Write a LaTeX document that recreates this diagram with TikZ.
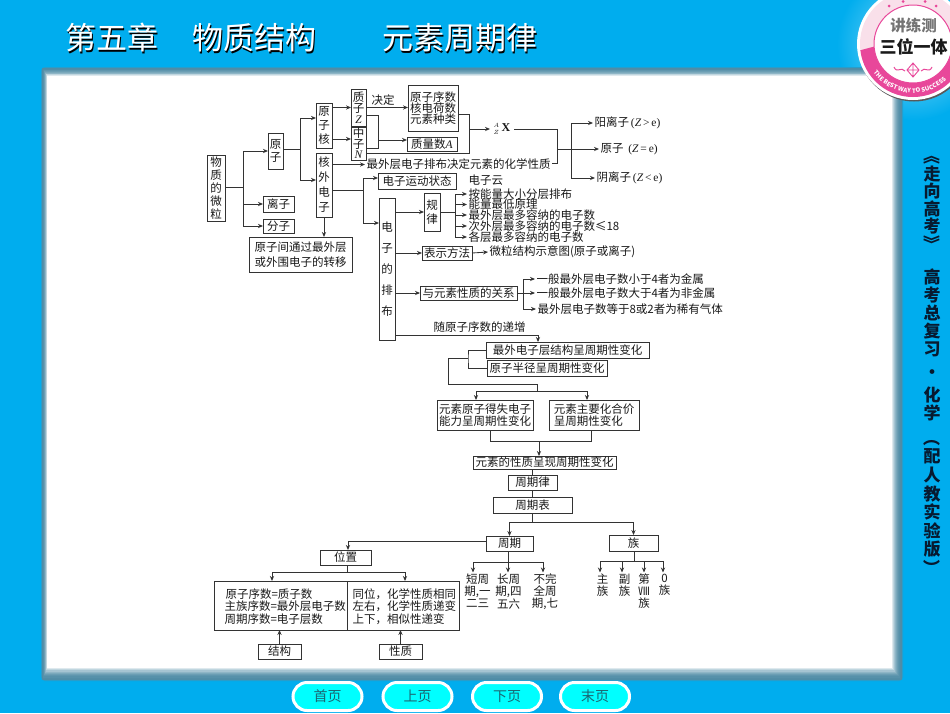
\documentclass[tikz,border=0pt]{standalone}
\usepackage{fontspec}
\setmainfont{Noto Sans CJK SC}
\newfontfamily\serifl{Liberation Serif}
\usetikzlibrary{arrows.meta,calc,decorations.text}
\definecolor{bgblue}{HTML}{00ADEE}
\definecolor{shd}{HTML}{4F8CA6}
\definecolor{ink}{HTML}{333333}
\definecolor{navy}{HTML}{071A30}
\definecolor{mag}{HTML}{E8479A}
\definecolor{lpink}{HTML}{F9E0EA}
\definecolor{pillc}{HTML}{00FFFF}
\definecolor{pillt}{HTML}{1B6672}
\tikzset{
  bx/.style={draw=ink,line width=.85pt,fill=white,inner sep=0pt,outer sep=0pt,align=center,text=black!90,
     font=\fontsize{11.5}{12}\selectfont},
  ls/.style={font=\fontsize{11.5}{#1}\selectfont},
  tx/.style={inner sep=0pt,outer sep=1.5pt,anchor=west,text=black!90,font=\fontsize{11.5}{12}\selectfont},
  tc/.style={inner sep=0pt,outer sep=1.5pt,anchor=north,align=center,text=black!90,font=\fontsize{11.5}{11.7}\selectfont},
  line/.style={draw=ink,line width=.85pt},
  arr/.style={draw=ink,line width=.85pt,-{Stealth[length=5pt,width=4.2pt]}},
  pill/.style={draw=white,line width=3pt,fill=pillc,rounded corners=14pt,minimum width=69pt,minimum height=28pt,
     inner sep=0pt,text=pillt,font=\fontsize{14}{14}\selectfont},
  side/.style={inner sep=0pt,align=center,text=navy}
}
\newcommand\bx[7][]{\node[bx,#1,minimum width={(#5-#3)*1pt},minimum height={(#6-#4)*1pt}] (#2) at ({(#3+#5)/2},{(#4+#6)/2}) {#7};}
\newcommand\tx[4]{\node[tx] (#1) at (#2,#3) {#4};}
\newcommand\tc[4]{\node[tc] (#1) at (#2,#3) {#4};}
\newcommand\sr[1]{{\serifl\itshape #1}}
\newcommand\rv[1]{\rotatebox[origin=c]{-90}{#1}}
\begin{document}
\begin{tikzpicture}[x=1pt,y=-1pt]
\useasboundingbox (0,0) rectangle (950,713);
\clip (0,0) rectangle (950,713);
\fill[bgblue] (0,0) rectangle (950,713);
\shade[inner color=white!55!bgblue,outer color=bgblue,draw=none] (913,44) circle (76);
% panel with a soft edge
\fill[rounded corners=4pt,shd!50!bgblue] (41,67) rectangle (903,681);
\foreach \i in {0,...,10}{
  \pgfmathsetmacro\p{\i*\i}
  \fill[white!\p!shd] ({42+\i*.5},{68+\i*.8}) rectangle ({902-\i*1.0},{680-\i*1.2});
}
% title
\node[anchor=west,inner sep=0pt,text=black,font=\fontsize{31}{31}\selectfont] at (66.5,39.5) {第五章\hspace*{34pt}物质结构\hspace*{66pt}元素周期律};
\node[anchor=west,inner sep=0pt,text=white,font=\fontsize{31}{31}\selectfont] (title) at (65,38) {第五章\hspace*{34pt}物质结构\hspace*{66pt}元素周期律};
% badge
\fill[black!65] (914,45.5) circle (56);
\fill[white] (913,44) circle (56);
\fill[lpink] (913,44) circle (53);
\begin{scope}
  \clip (850,53) -- (880,45) -- (990,45) -- (990,120) -- (850,120) -- cycle;
  \fill[mag] (913,44) circle (53);
\end{scope}
\foreach \a/\b in {889/6,903/1.5,925/1.5,936/6}{\fill[mag] (\a,\b) circle (1.5);}
\fill[white,draw=mag,line width=1pt] (913,44) circle (39);
\path[decorate,decoration={text along path,text align=left,
  text={|\fontsize{6}{6}\selectfont\bfseries\color{white}|THE BEST WAY TO SUCCESS}}]
  (913,44) ++ (144:49) arc[start angle=144,end angle=0,radius=49];
\node[inner sep=0pt,text=black!55,font=\fontsize{15.5}{15.5}\selectfont\bfseries] (bd1) at (913.5,26) {讲练测};
\node[inner sep=0pt,text=black!90,font=\fontsize{17}{17}\selectfont\bfseries] (bd2) at (913.5,47) {三位一体};
\draw[mag,line width=.9pt] (913,63) -- (919,70) -- (913,77) -- (907,70) -- cycle (913,63) -- (913,77) (907,70) -- (919,70);
\draw[mag,line width=1pt] (905,71) .. controls (901,66) and (897,74) .. (894,67) (921,71) .. controls (925,66) and (929,74) .. (932,67);
% ===== diagram boxes =====
\bx[ls=13]{wz}{207}{155}{225}{221}{物\\质\\的\\微\\粒}
\bx[ls=13]{yz}{268}{133}{283}{169}{原\\子}
\bx{lz}{263}{196}{294}{212}{离子}
\bx{fz}{263}{219}{294}{233}{分子}
\bx[ls=14.5]{yj}{249}{237}{352}{272}{原子间通过最外层\\或外围电子的转移}
\bx[ls=14]{hz}{316}{103}{332}{148}{原\\子\\核}
\bx[ls=15]{hw}{316}{153}{332}{217}{核\\外\\电\\子}
\bx[ls=11]{zz}{351}{89}{366}{126}{质\\子\\\sr{Z}}
\bx[ls=10.6]{zn}{351}{127}{366}{160}{中\\子\\\sr{N}}
\bx[ls=11.4]{yx}{408}{85}{458}{131}{原子序数\\核电荷数\\元素种类}
\bx{zl}{407}{137}{457}{151}{质量数\sr{A}}
\bx{yd}{378}{173}{456}{189}{电子运动状态}
\bx[ls=21]{pb}{379}{198}{395}{340}{电\\子\\的\\排\\布}
\bx[ls=13.5]{gl}{424}{193}{440}{231}{规\\律}
\bx{bs}{422}{246}{472}{260}{表示方法}
\bx{ys}{420}{286}{517}{300}{与元素性质的关系}
\bx{wa}{486}{342}{649}{358}{最外电子层结构呈周期性变化}
\bx{wb}{487}{360}{607}{376}{原子半径呈周期性变化}
\bx{ya}{437}{400}{533}{430}{元素原子得失电子\\能力呈周期性变化}
\bx[align=left]{yb}{549}{400}{639}{430}{元素主要化合价\\呈周期性变化}
\bx{xz}{473}{456}{616}{469}{元素的性质呈现周期性变化}
\bx{zql}{508}{475}{557}{490}{周期律}
\bx{zqb}{493}{497}{572}{513}{周期表}
\bx{zq}{486}{536}{533}{551}{周期}
\bx{zu}{609}{535}{658}{551}{族}
\bx{wzh}{320}{550}{371}{565}{位置}
\bx{L}{214}{581}{347}{630}{}
\bx{R}{347}{581}{459}{630}{}
\bx{jg}{258}{644}{301}{659}{结构}
\bx{xzh}{379}{644}{422}{659}{性质}
% ===== free texts =====
\node[inner sep=0pt,text=black!90,font=\fontsize{11.5}{12}\selectfont] (jd) at (383,100) {决定};
\node[inner sep=0pt,outer sep=0pt,minimum width=24pt,minimum height=12pt,text=black!90] (zax) at (502,129)
  {\fontsize{12}{12}\selectfont$^{\scriptscriptstyle A}_{\scriptscriptstyle Z}$\,{\serifl\bfseries X}};
\tx{wcp}{365}{164.5}{最外层电子排布决定元素的化学性质}
\tx{la}{593}{123}{阳离子{\serifl\,(\sr{Z}\,>\,e)}}
\tx{lb}{599}{149}{原子{\serifl\ \,(\sr{Z}\,=\,e)}}
\tx{lc}{595}{178}{阴离子{\serifl\,(\sr{Z}\,<\,e)}}
\tx{dzy}{467}{180}{电子云}
\tx{ta}{467}{194}{按能量大小分层排布}
\tx{tb}{467}{204.5}{能量最低原理}
\tx{tc}{467}{215}{最外层最多容纳的电子数}
\tx{td}{467}{226}{次外层最多容纳的电子数≤18}
\tx{te}{467}{237}{各层最多容纳的电子数}
\tx{wl}{488}{252}{微粒结构示意图(原子或离子)}
\tx{ga}{535}{279}{一般最外层电子数小于4者为金属}
\tx{gb}{535}{293}{一般最外层电子数大于4者为非金属}
\tx{gc}{536}{309}{最外层电子数等于8或2者为稀有气体}
\tx{sui}{432}{327}{随原子序数的递增}
\tx{La}{224}{594}{原子序数=质子数}
\tx{Lb}{223}{606.5}{主族序数=最外层电子数}
\tx{Lc}{223}{619}{周期序数=电子层数}
\tx{Ra}{351}{594}{同位，化学性质相同}
\tx{Rb}{351}{606.5}{左右，化学性质递变}
\tx{Rc}{351}{619}{上下，相似性递变}
\tc{aa}{477.5}{572.5}{短周\\期,一\\二三}
\tc{ab}{508.5}{572.5}{长周\\期,四\\五六}
\tc{ac}{545}{572.5}{不完\\全周\\期,七}
\tc{ba}{602.5}{572.5}{主\\族}
\tc{bb}{624.5}{572.5}{副\\族}
\tc{bc}{644}{572.5}{第\\Ⅷ\\族}
\tc{bd}{664.5}{572.5}{0\\族}
% ===== junctions =====
\coordinate (j1) at (243,187);
\coordinate (j2) at (300,149);
\coordinate (j3) at (378,140);
\coordinate (j5) at (469,129);
\coordinate (j6) at (557,149);
\coordinate (j7) at (571,149);
\coordinate (j8) at (363,190);
\coordinate (j9) at (455,212);
\coordinate (j10) at (523,293);
\coordinate (j11) at (468,358);
\coordinate (j12) at (448,384);
\coordinate (j13) at (537,391);
\coordinate (j14) at (539,441);
\coordinate (j15) at (532.5,522);
\coordinate (j16) at (347,572);
\coordinate (j17) at (508,562);
\coordinate (j18) at (634,561);
% ===== connectors =====
\draw[line] (wz.east |- j1) -- (j1);
\draw[arr] (j1) |- (yz.west);
\draw[arr] (j1) |- (lz.west);
\draw[arr] (j1) |- (fz.west);
\draw[line] (yz.east |- j2) -- (j2);
\draw[arr] (j2) |- ([yshift=7.5pt]hz.west);
\draw[arr] (j2) |- ([yshift=5pt]hw.west);
\draw[arr] ([yshift=18pt]hz.east) -- (zz.west);
\draw[arr] ([yshift=-13.5pt]hz.east) -- ([yshift=4.5pt]zn.west);
\draw[arr] (zz.east) -- (zz.east -| yx.west);
\draw[line] ([yshift=-7.5pt]zz.east) -| (j3);
\draw[line] ([yshift=-4.5pt]zn.east) -| (j3);
\draw[arr] (j3) -- (j3 -| zl.west);
\draw[line] ([yshift=-6pt]yx.east) -| (j5);
\draw[line] ([yshift=-9.5pt]zn.east) -| (j5);
\draw[arr] (j5) -- (j5 -| zax.west);
\draw[line] (zax.east) -| (j6);
\draw[line] ([yshift=1.5pt]wcp.east) -| (j6);
\draw[line] (j6) -- (j7);
\draw[arr] (j7) |- (la.west);
\draw[arr] (j7) -- (lb.west);
\draw[arr] (j7) |- (lc.west);
\draw[arr] ([yshift=20.5pt]hw.east) -- (wcp.west);
\draw[line] ([yshift=-5pt]hw.east) -- (j8);
\draw[arr] (j8) |- ([yshift=3pt]yd.west);
\draw[arr] (j8) |- ([yshift=46pt]pb.west);
\draw[arr] (hw.south) -- (hw.south |- yj.north);
\draw[arr] ([yshift=57pt]pb.east) -- (gl.west);
\draw[line] (gl.east) -- (j9);
\foreach \t in {ta,tb,tc,td,te}{\draw[arr] (j9) |- (\t.west);}
\draw[arr] (pb.east |- bs.west) -- (bs.west);
\draw[arr] (bs.east) -- (wl.west);
\draw[arr] (pb.east |- ys.west) -- (ys.west);
\draw[line] (ys.east) -- (j10);
\foreach \t in {ga,gb,gc}{\draw[arr] (j10) |- (\t.west);}
\draw[arr] ([yshift=-66pt]pb.east) -| ([xshift=-29.5pt]wa.north);
\draw[line] (wa.west) -| (j11) |- (wb.west);
\draw[line] (j11) -| (j12) -| (j13);
\draw[arr] (j13) -| ([xshift=-9pt]ya.north);
\draw[arr] (j13) -| ([xshift=-7pt]yb.north);
\draw[line] ([xshift=5pt]ya.south) |- (j14);
\draw[line] ([xshift=-3pt]yb.south) |- (j14);
\draw[arr] (j14) -- (j14 |- xz.north);
\draw[line] (zql.north |- xz.south) -- (zql.north);
\draw[line] (zql.south) -- (zqb.north);
\draw[line] (zqb.south) -- (j15);
\draw[arr] (j15) -| (zq.north);
\draw[arr] (j15) -| (zu.north);
\draw[arr] ([yshift=2.5pt]zq.west) -| ([xshift=2.5pt]wzh.north);
\draw[line] (wzh.south -| j16) -- (j16);
\draw[arr] (j16) -| ([xshift=-8.5pt]L.north);
\draw[arr] (j16) -| ([xshift=2pt]R.north);
\draw[arr] (jg.north) -- (jg.north |- L.south);
\draw[arr] (xzh.north) -- (xzh.north |- R.south);
\draw[line] (j17 |- zq.south) -- (j17);
\draw[arr] (j17) -| ([xshift=-4.5pt]aa.north);
\draw[arr] (j17) -- (j17 |- ab.north);
\draw[arr] (j17) -| ([xshift=-2pt]ac.north);
\draw[line] (j18 |- zu.south) -- (j18);
\draw[arr] (j18) -| ([xshift=-2.5pt]ba.north);
\draw[arr] (j18) -| ([xshift=-2.5pt]bb.north);
\draw[arr] (j18) -| (bc.north);
\draw[arr] (j18) -| ([xshift=-1.5pt]bd.north);
% ===== side column =====
\node[side,font=\fontsize{17}{17.6}\selectfont\bfseries] (s1) at (932,200) {\rv{《}\\走\\向\\高\\考\\\rv{》}};
\node[side,font=\fontsize{17}{18}\selectfont\bfseries] (s2) at (932,312.5) {高\\考\\总\\复\\习};
\node[side,font=\fontsize{17}{18}\selectfont\bfseries] (s3) at (932,374) {·};
\node[side,font=\fontsize{17}{18}\selectfont\bfseries] (s4) at (932,404) {化\\学};
\node[side,font=\fontsize{17}{18.6}\selectfont\bfseries] (s5) at (932,503) {\rv{（}\\配\\人\\教\\实\\验\\版\\\rv{）}};
% ===== buttons =====
\node[pill] (b1) at (327.5,696.5) {首页};
\node[pill] (b2) at (417.5,696.5) {上页};
\node[pill] (b3) at (507,696.5) {下页};
\node[pill] (b4) at (595,696.5) {末页};
\end{tikzpicture}
\end{document}
